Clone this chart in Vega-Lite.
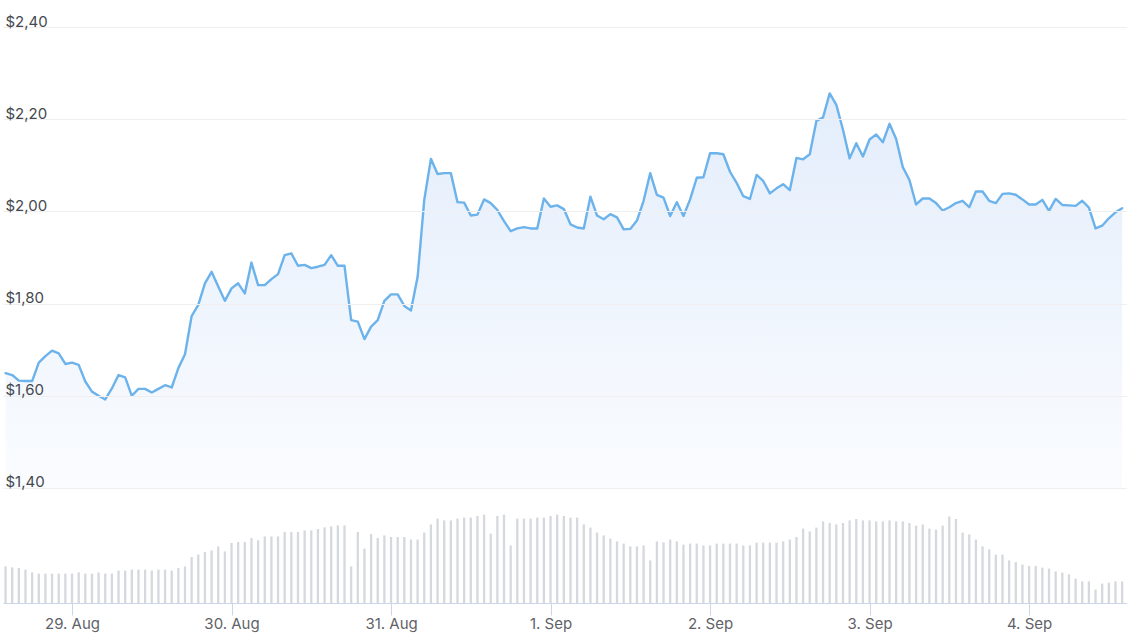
{
  "$schema": "https://vega.github.io/schema/vega-lite/v6.json",
  "autosize": {"type": "none"},
  "width": 1124,
  "height": 576,
  "padding": {"left": 3, "top": 27, "right": 0, "bottom": 37},
  "background": "#ffffff",
  "config": {"view": {"stroke": null}, "font": "Inter"},
  "data": {"values": [
    {"t":"2023-08-28T14:00","p":1.649,"v":18.3},{"t":"2023-08-28T15:00","p":1.645,"v":17.8},{"t":"2023-08-28T16:00","p":1.633,"v":17.5},{"t":"2023-08-28T17:00","p":1.632,"v":16.7},{"t":"2023-08-28T18:00","p":1.632,"v":15.3},{"t":"2023-08-28T19:00","p":1.672,"v":14.7},{"t":"2023-08-28T20:00","p":1.686,"v":14.7},{"t":"2023-08-28T21:00","p":1.698,"v":14.7},{"t":"2023-08-28T22:00","p":1.692,"v":14.7},{"t":"2023-08-28T23:00","p":1.669,"v":14.7},
    {"t":"2023-08-29T00:00","p":1.672,"v":14.7},{"t":"2023-08-29T01:00","p":1.667,"v":15.3},{"t":"2023-08-29T02:00","p":1.631,"v":14.7},{"t":"2023-08-29T03:00","p":1.609,"v":14.7},{"t":"2023-08-29T04:00","p":1.600,"v":15.3},{"t":"2023-08-29T05:00","p":1.592,"v":14.7},{"t":"2023-08-29T06:00","p":1.616,"v":14.7},{"t":"2023-08-29T07:00","p":1.645,"v":16.2},{"t":"2023-08-29T08:00","p":1.640,"v":16.2},{"t":"2023-08-29T09:00","p":1.600,"v":16.7},{"t":"2023-08-29T10:00","p":1.615,"v":16.7},{"t":"2023-08-29T11:00","p":1.615,"v":16.7},{"t":"2023-08-29T12:00","p":1.607,"v":16.2},{"t":"2023-08-29T13:00","p":1.615,"v":16.7},{"t":"2023-08-29T14:00","p":1.623,"v":16.7},{"t":"2023-08-29T15:00","p":1.618,"v":16.2},{"t":"2023-08-29T16:00","p":1.660,"v":17.5},{"t":"2023-08-29T17:00","p":1.690,"v":18.3},{"t":"2023-08-29T18:00","p":1.773,"v":23.0},{"t":"2023-08-29T19:00","p":1.797,"v":24.2},{"t":"2023-08-29T20:00","p":1.844,"v":25.5},{"t":"2023-08-29T21:00","p":1.869,"v":26.3},{"t":"2023-08-29T22:00","p":1.837,"v":28.3},{"t":"2023-08-29T23:00","p":1.806,"v":25.8},
    {"t":"2023-08-30T00:00","p":1.833,"v":30.0},{"t":"2023-08-30T01:00","p":1.844,"v":30.5},{"t":"2023-08-30T02:00","p":1.822,"v":30.5},{"t":"2023-08-30T03:00","p":1.889,"v":32.5},{"t":"2023-08-30T04:00","p":1.840,"v":31.3},{"t":"2023-08-30T05:00","p":1.840,"v":33.3},{"t":"2023-08-30T06:00","p":1.853,"v":33.3},{"t":"2023-08-30T07:00","p":1.864,"v":33.3},{"t":"2023-08-30T08:00","p":1.905,"v":35.5},{"t":"2023-08-30T09:00","p":1.909,"v":35.5},{"t":"2023-08-30T10:00","p":1.882,"v":35.5},{"t":"2023-08-30T11:00","p":1.884,"v":36.3},{"t":"2023-08-30T12:00","p":1.877,"v":36.3},{"t":"2023-08-30T13:00","p":1.880,"v":37.0},{"t":"2023-08-30T14:00","p":1.884,"v":37.8},{"t":"2023-08-30T15:00","p":1.905,"v":38.3},{"t":"2023-08-30T16:00","p":1.882,"v":38.8},{"t":"2023-08-30T17:00","p":1.882,"v":38.8},{"t":"2023-08-30T18:00","p":1.764,"v":18.3},{"t":"2023-08-30T19:00","p":1.761,"v":35.5},{"t":"2023-08-30T20:00","p":1.723,"v":27.2},{"t":"2023-08-30T21:00","p":1.750,"v":34.5},{"t":"2023-08-30T22:00","p":1.764,"v":32.5},{"t":"2023-08-30T23:00","p":1.806,"v":33.8},
    {"t":"2023-08-31T00:00","p":1.820,"v":33.0},{"t":"2023-08-31T01:00","p":1.820,"v":33.0},{"t":"2023-08-31T02:00","p":1.795,"v":33.0},{"t":"2023-08-31T03:00","p":1.785,"v":31.7},{"t":"2023-08-31T04:00","p":1.858,"v":31.7},{"t":"2023-08-31T05:00","p":2.025,"v":35.2},{"t":"2023-08-31T06:00","p":2.114,"v":39.3},{"t":"2023-08-31T07:00","p":2.081,"v":42.2},{"t":"2023-08-31T08:00","p":2.083,"v":41.3},{"t":"2023-08-31T09:00","p":2.083,"v":41.3},{"t":"2023-08-31T10:00","p":2.020,"v":42.2},{"t":"2023-08-31T11:00","p":2.019,"v":42.7},{"t":"2023-08-31T12:00","p":1.991,"v":42.7},{"t":"2023-08-31T13:00","p":1.993,"v":43.5},{"t":"2023-08-31T14:00","p":2.026,"v":44.2},{"t":"2023-08-31T15:00","p":2.018,"v":34.7},{"t":"2023-08-31T16:00","p":2.003,"v":43.5},{"t":"2023-08-31T17:00","p":1.979,"v":44.2},{"t":"2023-08-31T18:00","p":1.957,"v":28.8},{"t":"2023-08-31T19:00","p":1.963,"v":42.2},{"t":"2023-08-31T20:00","p":1.966,"v":42.2},{"t":"2023-08-31T21:00","p":1.963,"v":42.2},{"t":"2023-08-31T22:00","p":1.963,"v":42.7},{"t":"2023-08-31T23:00","p":2.028,"v":42.7},
    {"t":"2023-09-01T00:00","p":2.010,"v":43.5},{"t":"2023-09-01T01:00","p":2.013,"v":44.2},{"t":"2023-09-01T02:00","p":2.005,"v":43.5},{"t":"2023-09-01T03:00","p":1.972,"v":42.7},{"t":"2023-09-01T04:00","p":1.965,"v":42.7},{"t":"2023-09-01T05:00","p":1.963,"v":39.3},{"t":"2023-09-01T06:00","p":2.032,"v":37.7},{"t":"2023-09-01T07:00","p":1.991,"v":35.2},{"t":"2023-09-01T08:00","p":1.983,"v":33.8},{"t":"2023-09-01T09:00","p":1.994,"v":32.2},{"t":"2023-09-01T10:00","p":1.987,"v":30.8},{"t":"2023-09-01T11:00","p":1.961,"v":29.7},{"t":"2023-09-01T12:00","p":1.962,"v":28.3},{"t":"2023-09-01T13:00","p":1.980,"v":28.3},{"t":"2023-09-01T14:00","p":2.023,"v":28.8},{"t":"2023-09-01T15:00","p":2.083,"v":21.3},{"t":"2023-09-01T16:00","p":2.036,"v":30.8},{"t":"2023-09-01T17:00","p":2.030,"v":30.3},{"t":"2023-09-01T18:00","p":1.990,"v":31.7},{"t":"2023-09-01T19:00","p":2.020,"v":30.8},{"t":"2023-09-01T20:00","p":1.990,"v":29.2},{"t":"2023-09-01T21:00","p":2.026,"v":29.7},{"t":"2023-09-01T22:00","p":2.073,"v":29.7},{"t":"2023-09-01T23:00","p":2.074,"v":28.8},
    {"t":"2023-09-02T00:00","p":2.126,"v":28.8},{"t":"2023-09-02T01:00","p":2.126,"v":29.7},{"t":"2023-09-02T02:00","p":2.124,"v":29.7},{"t":"2023-09-02T03:00","p":2.086,"v":29.7},{"t":"2023-09-02T04:00","p":2.062,"v":29.7},{"t":"2023-09-02T05:00","p":2.033,"v":28.8},{"t":"2023-09-02T06:00","p":2.027,"v":28.8},{"t":"2023-09-02T07:00","p":2.079,"v":30.2},{"t":"2023-09-02T08:00","p":2.066,"v":30.2},{"t":"2023-09-02T09:00","p":2.039,"v":30.2},{"t":"2023-09-02T10:00","p":2.050,"v":30.2},{"t":"2023-09-02T11:00","p":2.059,"v":30.8},{"t":"2023-09-02T12:00","p":2.046,"v":31.7},{"t":"2023-09-02T13:00","p":2.116,"v":33.0},{"t":"2023-09-02T14:00","p":2.113,"v":37.2},{"t":"2023-09-02T15:00","p":2.124,"v":35.8},{"t":"2023-09-02T16:00","p":2.196,"v":37.7},{"t":"2023-09-02T17:00","p":2.204,"v":40.8},{"t":"2023-09-02T18:00","p":2.256,"v":40.0},{"t":"2023-09-02T19:00","p":2.231,"v":39.3},{"t":"2023-09-02T20:00","p":2.177,"v":40.0},{"t":"2023-09-02T21:00","p":2.115,"v":41.3},{"t":"2023-09-02T22:00","p":2.148,"v":42.0},{"t":"2023-09-02T23:00","p":2.119,"v":41.3},
    {"t":"2023-09-03T00:00","p":2.156,"v":41.3},{"t":"2023-09-03T01:00","p":2.167,"v":40.8},{"t":"2023-09-03T02:00","p":2.150,"v":40.8},{"t":"2023-09-03T03:00","p":2.190,"v":41.3},{"t":"2023-09-03T04:00","p":2.157,"v":40.8},{"t":"2023-09-03T05:00","p":2.096,"v":40.8},{"t":"2023-09-03T06:00","p":2.068,"v":40.0},{"t":"2023-09-03T07:00","p":2.015,"v":38.7},{"t":"2023-09-03T08:00","p":2.028,"v":39.3},{"t":"2023-09-03T09:00","p":2.028,"v":37.2},{"t":"2023-09-03T10:00","p":2.018,"v":36.7},{"t":"2023-09-03T11:00","p":2.002,"v":38.7},{"t":"2023-09-03T12:00","p":2.009,"v":43.3},{"t":"2023-09-03T13:00","p":2.018,"v":42.0},{"t":"2023-09-03T14:00","p":2.023,"v":35.2},{"t":"2023-09-03T15:00","p":2.009,"v":34.3},{"t":"2023-09-03T16:00","p":2.043,"v":31.7},{"t":"2023-09-03T17:00","p":2.043,"v":28.3},{"t":"2023-09-03T18:00","p":2.023,"v":26.8},{"t":"2023-09-03T19:00","p":2.018,"v":24.2},{"t":"2023-09-03T20:00","p":2.038,"v":24.2},{"t":"2023-09-03T21:00","p":2.039,"v":21.3},{"t":"2023-09-03T22:00","p":2.036,"v":20.5},{"t":"2023-09-03T23:00","p":2.026,"v":19.2},
    {"t":"2023-09-04T00:00","p":2.015,"v":18.5},{"t":"2023-09-04T01:00","p":2.015,"v":18.5},{"t":"2023-09-04T02:00","p":2.025,"v":17.7},{"t":"2023-09-04T03:00","p":2.001,"v":17.2},{"t":"2023-09-04T04:00","p":2.027,"v":15.8},{"t":"2023-09-04T05:00","p":2.014,"v":15.2},{"t":"2023-09-04T06:00","p":2.013,"v":14.3},{"t":"2023-09-04T07:00","p":2.012,"v":12.2},{"t":"2023-09-04T08:00","p":2.023,"v":10.8},{"t":"2023-09-04T09:00","p":2.008,"v":10.8},{"t":"2023-09-04T10:00","p":1.963,"v":6.7},{"t":"2023-09-04T11:00","p":1.969,"v":9.7},{"t":"2023-09-04T12:00","p":1.985,"v":10.2},{"t":"2023-09-04T13:00","p":1.998,"v":10.8},{"t":"2023-09-04T14:00","p":2.007,"v":10.8}
  ]},
  "encoding": {
    "x": {
      "field": "t", "type": "temporal", "title": null,
      "scale": {"domain": ["2023-08-28T13:37", "2023-09-04T14:44"], "nice": false},
      "axis": {
        "tickCount": {"interval": "day", "step": 1},
        "format": "%-d. %b",
        "grid": false,
        "labelFontSize": 15,
        "labelColor": "#5f6368",
        "labelFont": "Inter",
        "labelPadding": 1,
        "labelFlush": false,
        "labelOverlap": false,
        "tickColor": "#ccd6eb",
        "tickSize": 12,
        "domainColor": "#ccd6eb",
        "domainWidth": 1
      }
    }
  },
  "layer": [
    {
      "layer": [
        {
          "mark": {"type": "area", "interpolate": "linear",
            "fill": {"gradient": "linear", "x1": 0, "y1": 0, "x2": 0, "y2": 1,
              "stops": [{"offset": 0, "color": "#e3edfb"}, {"offset": 1, "color": "#fafcff"}]},
            "fillOpacity": 1},
          "encoding": {
            "y": {"field": "p", "type": "quantitative", "title": null,
              "scale": {"domain": [1.1505, 2.4], "zero": false, "nice": false},
              "axis": {
                "orient": "left",
                "zindex": 1,
                "values": [1.4, 1.6, 1.8, 2.0, 2.2, 2.4],
                "labelExpr": "'$' + replace(format(datum.value, '.2f'), '.', ',')",
                "grid": true, "gridColor": "#efefef", "gridWidth": 1,
                "domain": false, "ticks": false, "tickSize": 0,
                "labelAlign": "left", "labelBaseline": "alphabetic",
                "labelPadding": -2, "labelOffset": -1,
                "labelFontSize": 15, "labelColor": "#44494f", "labelFont": "Inter",
                "labelFlush": false, "labelOverlap": false
              }
            },
            "y2": {"datum": 1.4}
          }
        },
        {
          "mark": {"type": "line", "color": "#6cb2eb", "strokeWidth": 2.4, "strokeJoin": "round", "strokeCap": "round"},
          "encoding": {"y": {"field": "p", "type": "quantitative"}}
        }
      ]
    },
    {
      "mark": {"type": "rule", "color": "#d5d8dd", "strokeWidth": 2.3},
      "encoding": {
        "y": {"field": "v", "type": "quantitative", "axis": null, "scale": {"domain": [0, 288], "nice": false}},
        "y2": {"datum": 0}
      }
    }
  ],
  "resolve": {"scale": {"y": "independent"}}
}
